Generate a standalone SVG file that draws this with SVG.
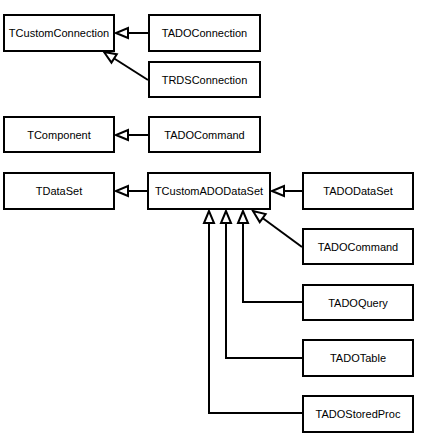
<svg xmlns="http://www.w3.org/2000/svg" width="421" height="447" viewBox="0 0 421 447">
<defs>
<style>
.box{fill:#fff;stroke:#000;stroke-width:2}
.lbl{font-family:"Liberation Sans",Arial,sans-serif;font-size:11px;fill:#000;text-anchor:middle}
.edge{fill:none;stroke:#000;stroke-width:2;marker-end:url(#tri)}
</style>
<marker id="tri" markerUnits="userSpaceOnUse" markerWidth="14" markerHeight="12" refX="12" refY="5" orient="auto" overflow="visible">
<path d="M12,5 L0,0 L0,10 Z" fill="#fff" stroke="#000" stroke-width="2"/>
</marker>
</defs>
<rect width="421" height="447" fill="#fff"/>
<g id="connectors">
<path class="edge" d="M148,33 L116,33"/>
<path class="edge" d="M148,80 L104,52"/>
<path class="edge" d="M148,135 L116,135"/>
<path class="edge" d="M147,191 L116,191"/>
<path class="edge" d="M302,191 L272,191"/>
<path class="edge" d="M302,247 L253,211"/>
<path class="edge" d="M302,302 L243,302 L243,211"/>
<path class="edge" d="M302,358 L226,358 L226,211"/>
<path class="edge" d="M302,413 L209,413 L209,211"/>
</g>
<g id="TCustomConnection"><rect class="box" x="4" y="15" width="110" height="36"/><text class="lbl" x="59" y="37">TCustomConnection</text></g>
<g id="TADOConnection"><rect class="box" x="149" y="15" width="111" height="36"/><text class="lbl" x="204.5" y="37">TADOConnection</text></g>
<g id="TRDSConnection"><rect class="box" x="149" y="62" width="111" height="35"/><text class="lbl" x="204.5" y="83.5">TRDSConnection</text></g>
<g id="TComponent"><rect class="box" x="4" y="117" width="110" height="35"/><text class="lbl" x="59" y="138.5">TComponent</text></g>
<g id="TADOCommand1"><rect class="box" x="149" y="117" width="111" height="35"/><text class="lbl" x="204.5" y="138.5">TADOCommand</text></g>
<g id="TDataSet"><rect class="box" x="4" y="173" width="110" height="36"/><text class="lbl" x="59" y="195">TDataSet</text></g>
<g id="TCustomADODataSet"><rect class="box" x="148" y="173" width="122" height="36"/><text class="lbl" x="209" y="195">TCustomADODataSet</text></g>
<g id="TADODataSet"><rect class="box" x="303" y="173" width="110" height="36"/><text class="lbl" x="358" y="195">TADODataSet</text></g>
<g id="TADOCommand2"><rect class="box" x="303" y="229" width="110" height="35"/><text class="lbl" x="358" y="250.5">TADOCommand</text></g>
<g id="TADOQuery"><rect class="box" x="303" y="285" width="110" height="35"/><text class="lbl" x="358" y="306.5">TADOQuery</text></g>
<g id="TADOTable"><rect class="box" x="303" y="340" width="110" height="36"/><text class="lbl" x="358" y="362">TADOTable</text></g>
<g id="TADOStoredProc"><rect class="box" x="303" y="396" width="110" height="36"/><text class="lbl" x="358" y="418">TADOStoredProc</text></g>
</svg>
